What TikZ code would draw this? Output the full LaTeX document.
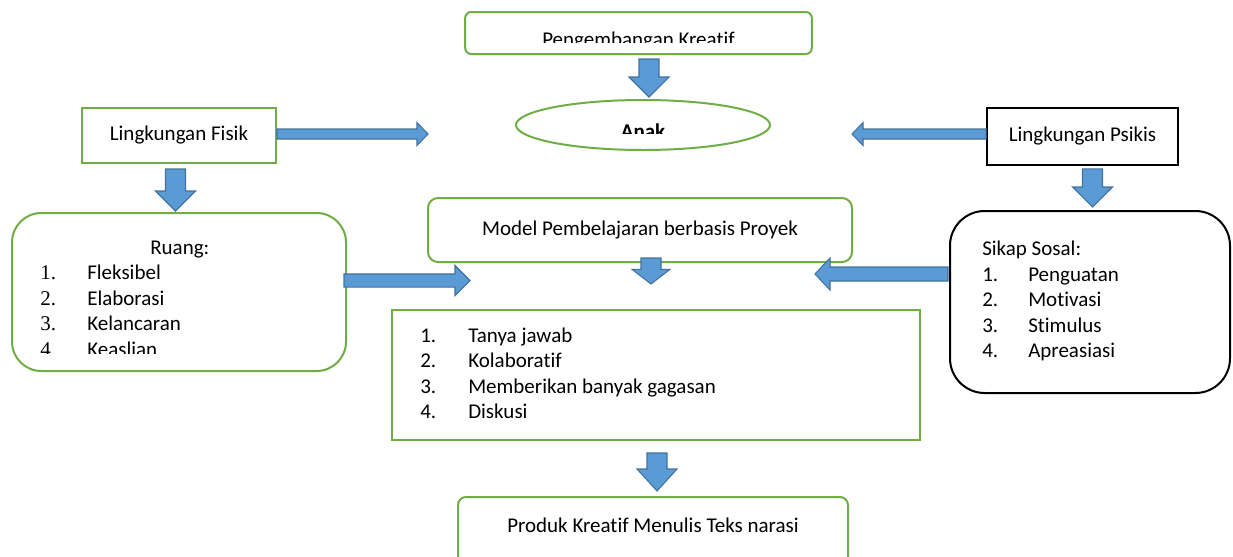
\documentclass[tikz,border=0pt]{standalone}
\usepackage{fontspec}
\setmainfont{Carlito}[Ligatures={NoCommon,NoRequired}]
\newfontfamily\timesnum{Liberation Serif}
\usetikzlibrary{calc,shapes.geometric}

\definecolor{boxgreen}{HTML}{70AD47}
\definecolor{arrowfill}{HTML}{5B9BD5}
\definecolor{arrowline}{HTML}{41719C}

\tikzset{
  greenbox/.style={draw=boxgreen, line width=1.5pt, fill=white, inner sep=0pt},
  blackbox/.style={draw=black, line width=1.2pt, fill=white, inner sep=0pt},
  fatarrow/.style={draw=arrowline, fill=arrowfill, line width=0.8pt, line join=miter},
  listtext/.style={anchor=base west, inner sep=0pt, align=left},
}

% block arrow: from, to, half shaft, half head, head length
\newcommand{\blockarrow}[5]{%
  \draw[fatarrow] let \p1=#1, \p2=#2,
      \n1={veclen(\x2-\x1,\y2-\y1)}, \n2={atan2(\y2-\y1,\x2-\x1)} in
    [shift={(\p1)}, rotate=\n2]
    (0pt,-#3) -- ({\n1-#5},-#3) -- ({\n1-#5},-#4) -- ({\n1+0pt},0pt)
    -- ({\n1-#5},#4) -- ({\n1-#5},#3) -- (0pt,#3) -- cycle;}

\begin{document}
\begin{tikzpicture}[x=0.75pt, y=-0.75pt, font=\fontsize{15.75}{19.2}\selectfont]
  \useasboundingbox (0,0) rectangle (1233,557);

  % Top
  \node[greenbox, rounded corners=4.5pt, minimum width=260pt, minimum height=31.5pt] (peng) at (638.5,33) {};
  \begin{scope}
    \clip (470,20) rectangle (810,42);
    \node[anchor=base, inner sep=0pt] (pengtext) at (638.5,46.5) {Pengembangan Kreatif};
  \end{scope}
  \node[greenbox, ellipse, minimum width=190.5pt, minimum height=37.5pt] (anak) at (643,125) {};
  \begin{scope}
    \clip (520,110) rectangle (765,133);
    \node[anchor=base, inner sep=0pt] (anaktext) at (643,138.5) {\bfseries Anak};
  \end{scope}

  % Environments
  \node[greenbox, minimum width=145.5pt, minimum height=41.25pt] (fisik) at (179,135.5) {Lingkungan Fisik};
  \node[blackbox, minimum width=143.25pt, minimum height=42.75pt] (psikis) at (1082.5,136.5) {Lingkungan Psikis};

  % Middle row
  \node[greenbox, rounded corners=7.5pt, minimum width=318pt, minimum height=48pt] (model) at (640,230) {Model Pembelajaran berbasis Proyek};
  \node[greenbox, rounded corners=22pt, minimum width=250.5pt, minimum height=118.5pt] (ruang) at (179,292) {};
  \begin{scope}
    \clip (20,225) rectangle (340,353);
    \node[listtext] (ruanglist) at (40,254) {\begin{tabular}[t]{@{}p{35.25pt}@{}l@{}}
      \multicolumn{2}{@{}l@{}}{\hspace{82.5pt}Ruang:}\\
      {\timesnum 1.} & Fleksibel\\
      {\timesnum 2.} & Elaborasi\\
      {\timesnum 3.} & Kelancaran\\
      {\timesnum 4.} & Keaslian
    \end{tabular}};
  \end{scope}
  \node[blackbox, line width=1.5pt, rounded corners=26pt, minimum width=210pt, minimum height=136.5pt] (sikap) at (1090,302) {};
  \node[listtext] (sikaplist) at (982,255.5) {\begin{tabular}[t]{@{}p{34.5pt}@{}l@{}}
      \multicolumn{2}{@{}l@{}}{Sikap Sosal:}\\
      1. & Penguatan\\
      2. & Motivasi\\
      3. & Stimulus\\
      4. & Apreasiasi
    \end{tabular}};

  % Bottom
  \node[greenbox, minimum width=396pt, minimum height=97.5pt] (list) at (656,375) {};
  \node[listtext] (metode) at (420,342) {\begin{tabular}[t]{@{}p{36pt}@{}l@{}}
      1. & Tanya jawab\\
      2. & Kolaboratif\\
      3. & Memberikan banyak gagasan\\
      4. & Diskusi
    \end{tabular}};
  \node[greenbox, rounded corners=6pt, minimum width=292.5pt, anchor=base, text height=26.25pt, text depth=36pt] (produk) at (653,532) {Produk Kreatif Menulis Teks narasi};

  % Arrows
  \coordinate (fisiktip) at (428,134);
  \coordinate (psikistip) at (852,134);
  \coordinate (ruangtip) at (470,280.5);
  \coordinate (sikaptip) at (815,274);

  \blockarrow{($(peng.south)+(10.5,4)$)}{($(anak.north)+(6,-2)$)}{7.5pt}{15pt}{15pt}
  \blockarrow{($(fisik.east)+(0,-1.5)$)}{(fisiktip)}{3.75pt}{8.6pt}{8.25pt}
  \blockarrow{($(psikis.west)+(0,-2.5)$)}{(psikistip)}{3.75pt}{8.6pt}{8.25pt}
  \blockarrow{($(fisik.south)+(-3.5,5)$)}{($(ruang.north)+(-3.5,-1)$)}{7.5pt}{15pt}{15pt}
  \blockarrow{($(psikis.south)+(10,3)$)}{($(sikap.north)+(2.5,-3)$)}{7.5pt}{15pt}{15pt}
  \blockarrow{($(model.south)+(11,-5)$)}{($(list.north)+(-5,-25)$)}{7.5pt}{14.25pt}{11pt}
  \blockarrow{($(ruang.east)+(-3,-11.5)$)}{(ruangtip)}{4.9pt}{11.25pt}{11.25pt}
  \blockarrow{($(sikap.west)+(-1,-28)$)}{(sikaptip)}{5.25pt}{12pt}{11.25pt}
  \blockarrow{($(list.south)+(1,12)$)}{($(produk.north)+(4,-5)$)}{7.5pt}{15pt}{16.5pt}
\end{tikzpicture}
\end{document}
